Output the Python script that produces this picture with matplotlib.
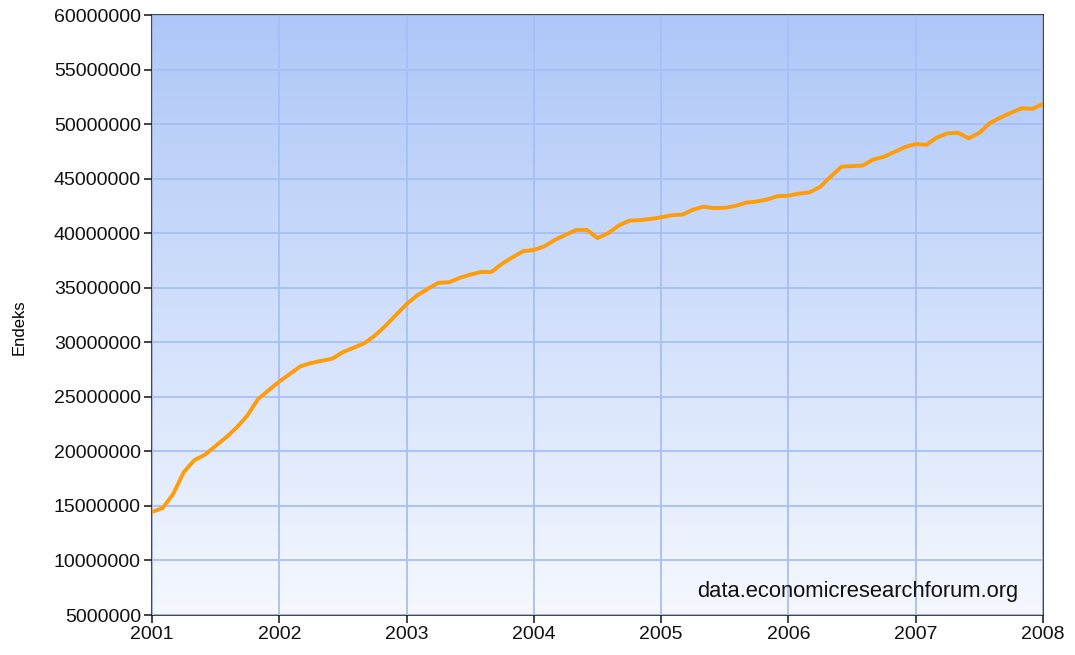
import numpy as np
import matplotlib
matplotlib.use("Agg")
import matplotlib.pyplot as plt
from matplotlib.colors import LinearSegmentedColormap

plt.rcParams['font.family'] = ['Liberation Sans', 'DejaVu Sans']

start_year = 2001
values_m = [
    14.45, 14.8, 16.1, 18.1, 19.2, 19.7, 20.5, 21.3, 22.2, 23.3, 24.8, 25.6,
    26.4, 27.1, 27.8, 28.1, 28.3, 28.5, 29.1, 29.5, 29.9, 30.6, 31.5, 32.5,
    33.5, 34.3, 34.9, 35.45, 35.5, 35.9, 36.2, 36.44, 36.45, 37.2, 37.8, 38.35,
    38.46, 38.8, 39.4, 39.85, 40.3, 40.3, 39.55, 40.0, 40.7, 41.15, 41.2, 41.3,
    41.45, 41.65, 41.7, 42.15, 42.43, 42.3, 42.32, 42.5, 42.8, 42.9, 43.1, 43.4,
    43.44, 43.63, 43.75, 44.25, 45.2, 46.1, 46.15, 46.2, 46.75, 47.0, 47.45, 47.9,
    48.17, 48.1, 48.77, 49.15, 49.2, 48.7, 49.2, 50.1, 50.6, 51.05, 51.45, 51.4,
    51.85,
]
values = [v * 1e6 for v in values_m]
x_years = [start_year + i / 12 for i in range(len(values))]
year_ticks = list(range(2001, 2009))
y_ticks = list(range(5000000, 60000001, 5000000))
y_label = "Endeks"
source = "data.economicresearchforum.org"

fig = plt.figure(figsize=(10.75, 6.55), dpi=100)
ax = fig.add_axes([152/1075, 1 - 615/655, (1043-152)/1075, 600/655])

cmap = LinearSegmentedColormap.from_list("bg", ["#f5f8fe", "#adc7f8"])
grad = np.linspace(0, 1, 256).reshape(-1, 1)
ax.imshow(grad, cmap=cmap, aspect='auto', origin='lower',
          extent=[0, 1, 0, 1], transform=ax.transAxes, zorder=0)

ax.set_xlim(2001, 2008)
ax.set_ylim(5000000, 60000000)
ax.set_xticks(year_ticks)
ax.set_xticklabels([str(y) for y in year_ticks])
ax.set_yticks(y_ticks)
ax.set_yticklabels([str(v) for v in y_ticks])
ax.grid(True, color="#a6c0f5", linewidth=1.3, zorder=1)
ax.set_axisbelow(False)

ax.plot(x_years, values, color="#ff9c0a", linewidth=2.8, zorder=3,
        solid_joinstyle='round')

for s in ax.spines.values():
    s.set_color("#222222")
    s.set_linewidth(1.2)
ax.tick_params(axis='both', direction='out', length=6, width=1.2,
               color="#222222", labelsize=14, labelcolor="#111111")
ax.tick_params(axis='x', pad=2)
ax.tick_params(axis='y', pad=2)
ax.set_ylabel(y_label, fontsize=12)
ax.yaxis.set_label_coords(-0.141, 0.48)

ax.text(0.972, 0.03, source, transform=ax.transAxes, ha='right', va='baseline',
        fontsize=15.8, color="#111111", zorder=4)

fig.savefig("out.png", dpi=100)
